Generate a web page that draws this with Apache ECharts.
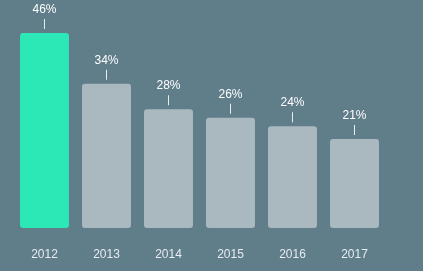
<!DOCTYPE html>
<html><head><meta charset="utf-8">
<script src="https://cdn.jsdelivr.net/npm/echarts@6/dist/echarts.min.js"></script>
<style>html,body{margin:0;padding:0;background:#607d8a;}#c{width:423px;height:271px;}</style>
</head><body><div id="c"></div>
<script>
const years = ['2012','2013','2014','2015','2016','2017'];
const shares = [46, 34, 28, 26, 24, 21];
const highlightIndex = 0;

const chart = echarts.init(document.getElementById('c'));
chart.setOption({
  backgroundColor: '#607d8a',
  animation: false,
  grid: {left: 13.5, right: 37.5, top: 16, bottom: 43},
  xAxis: {
    type: 'category', data: years,
    axisLine: {show: false}, axisTick: {show: false},
    axisLabel: {color: '#e6ecef', fontSize: 12, fontFamily: 'Liberation Sans, Arial, sans-serif', margin: 21}
  },
  yAxis: {type: 'value', min: 0, max: 50, show: false, splitLine: {show: false}},
  series: [{
    type: 'bar',
    barCategoryGap: '21%',
    data: shares.map((v, i) => ({
      value: v,
      itemStyle: {color: i === highlightIndex ? '#2be8b6' : '#aab9c0'}
    })),
    itemStyle: {borderRadius: 3},
    label: {
      show: true, position: 'top', distance: 4,
      formatter: p => '{a|' + p.value + '%}\n{b|}',
      rich: {
        a: {color: '#ffffff', fontSize: 12, fontFamily: 'Liberation Sans, Arial, sans-serif', lineHeight: 14, padding: [0,0,5,0], align: 'center'},
        b: {width: 1, height: 10, backgroundColor: '#e8eef0', align: 'center'}
      }
    }
  }]
});
</script></body></html>
